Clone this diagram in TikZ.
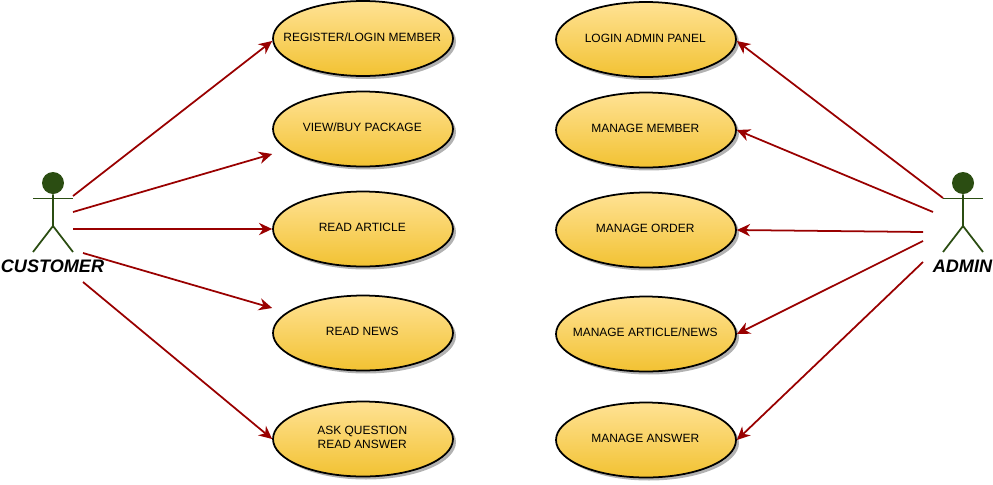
\documentclass[tikz,border=0pt]{standalone}
\usepackage{fontspec}
\setmainfont{Liberation Sans}
\usetikzlibrary{arrows.meta,shapes.geometric,shadows}
\definecolor{actorgreen}{HTML}{2B4D12}
\definecolor{arrowred}{HTML}{990000}
\definecolor{usetop}{HTML}{FFE294}
\definecolor{usebottom}{HTML}{F2C232}
\tikzset{
  usecase/.style={ellipse, draw=black, line width=1pt, inner sep=0pt,
    minimum width=3.6cm, minimum height=1.5cm,
    top color=usetop, bottom color=usebottom,
    drop shadow={shadow xshift=0.06cm, shadow yshift=-0.06cm, fill=black, opacity=0.3}},
  casetext/.style={font=\fontsize{6.82}{8.2}\selectfont, align=center, inner sep=0pt, xshift=-0.015cm, yshift=0.03cm},
  actorhead/.style={circle, fill=actorgreen, inner sep=0pt, minimum size=0.44cm},
  actorline/.style={draw=actorgreen, line width=1pt},
  actorname/.style={font=\fontsize{10.3}{12}\selectfont\bfseries\itshape},
  usearrow/.style={draw=arrowred, line width=1pt, -{Stealth[length=7.5pt,width=7pt]}}
}
\begin{document}
\begin{tikzpicture}[x=0.02cm, y=-0.02cm]
  \useasboundingbox (0,0) rectangle (993,484);

  % Customer
  \node[actorhead] (customerhead) at (53,183) {};
  \draw[actorline] (33,198.5) -- (73,198.5);
  \draw[actorline] (customerhead) -- (53,226) -- (33,252);
  \draw[actorline] (53,226) -- (73,252);
  \node[actorname] (customer) at (52.5,266) {CUSTOMER};

  % Admin
  \node[actorhead] (adminhead) at (963,183) {};
  \draw[actorline] (943,198.5) -- (983,198.5);
  \draw[actorline] (adminhead) -- (963,226) -- (943,252);
  \draw[actorline] (963,226) -- (983,252);
  \node[actorname] (admin) at (962.5,266) {ADMIN};

  % Use cases left
  \node[usecase, label={[casetext, text depth=0pt]center:REGISTER/LOGIN MEMBER}] (register) at (363,38.5) {};
  \node[usecase, label={[casetext, text depth=0pt]center:VIEW/BUY PACKAGE}] (viewbuy) at (363,129) {};
  \node[usecase, label={[casetext]center:READ ARTICLE}] (article) at (363,229) {};
  \node[usecase, label={[casetext]center:READ NEWS}] (news) at (363,333) {};
  \node[usecase, label={[casetext]center:ASK QUESTION\\READ ANSWER}] (question) at (363,439) {};

  % Use cases right
  \node[usecase, label={[casetext]center:LOGIN ADMIN PANEL}] (loginadmin) at (646,39.5) {};
  \node[usecase, label={[casetext]center:MANAGE MEMBER}] (member) at (646,130) {};
  \node[usecase, label={[casetext]center:MANAGE ORDER}] (order) at (646,230) {};
  \node[usecase, label={[casetext, text depth=0pt]center:MANAGE ARTICLE/NEWS}] (articlenews) at (646,334) {};
  \node[usecase, label={[casetext]center:MANAGE ANSWER}] (answer) at (646,440) {};

  % Free line ends at the actors
  \coordinate (c1) at (73,196);
  \coordinate (c2) at (73,212);
  \coordinate (c3) at (73,229);
  \coordinate (c4) at (83,253);
  \coordinate (c5) at (83,282);
  \coordinate (a1) at (943,198);
  \coordinate (a2) at (933,212);
  \coordinate (a3) at (923,232);
  \coordinate (a4) at (923,241);
  \coordinate (a5) at (923,262);

  % Customer arrows
  \draw[usearrow] (c1) -- ([yshift=-0.05cm]register.west);
  \draw[usearrow] (c2) -- ([yshift=-0.5cm]viewbuy.west);
  \draw[usearrow] (c3) -- (article.west);
  \draw[usearrow] (c4) -- ([yshift=0.5cm]news.west);
  \draw[usearrow] (c5) -- (question.west);

  % Admin arrows
  \draw[usearrow] (a1) -- ([yshift=-0.03cm]loginadmin.east);
  \draw[usearrow] (a2) -- (member.east);
  \draw[usearrow] (a3) -- (order.east);
  \draw[usearrow] (a4) -- (articlenews.east);
  \draw[usearrow] (a5) -- (answer.east);
\end{tikzpicture}
\end{document}
